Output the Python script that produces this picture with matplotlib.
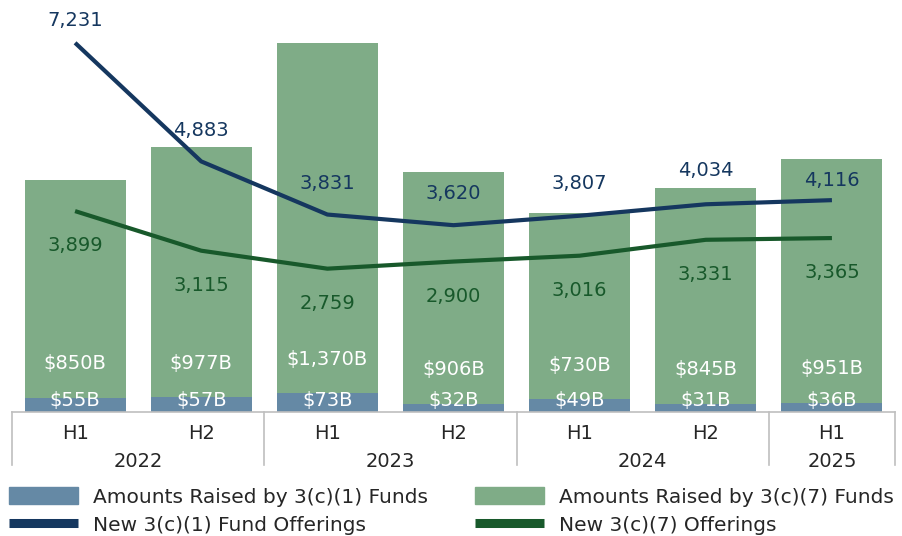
import numpy as np
from matplotlib import pyplot as plt
from matplotlib.patches import Patch
from matplotlib.lines import Line2D

# half-year periods and their years
periods = ['H1', 'H2', 'H1', 'H2', 'H1', 'H2', 'H1']
years = ['2022', '2023', '2024', '2025']
year_spans = [2, 2, 2, 1]

# amounts raised, $B
c1_amount = [55, 57, 73, 32, 49, 31, 36]
c7_amount = [850, 977, 1370, 906, 730, 845, 951]

# number of new offerings
c1_offerings = [7231, 4883, 3831, 3620, 3807, 4034, 4116]
c7_offerings = [3899, 3115, 2759, 2900, 3016, 3331, 3365]

BLUE_BAR = '#6589A5'
GREEN_BAR = '#7FAC87'
NAVY = '#15375F'
DKGREEN = '#18592B'
GRID = '#BFBFBF'
TXT = '#262626'

plt.rcParams['font.family'] = 'DejaVu Sans'

fig = plt.figure(figsize=(9.02, 5.36), dpi=100)
W, H = 902, 536
ax = fig.add_axes([12 / W, (H - 411.7) / H, (895 - 12) / W, 411.7 / H])
ax2 = ax.twinx()

x = np.arange(len(periods))
ax.bar(x, c1_amount, width=0.8, color=BLUE_BAR)
ax.bar(x, c7_amount, width=0.8, bottom=c1_amount, color=GREEN_BAR)
ax.set_xlim(-0.5, len(periods) - 0.5)
ax.set_ylim(0, 1611)

ax2.plot(x, c1_offerings, color=NAVY, lw=3, solid_capstyle='butt')
ax2.plot(x, c7_offerings, color=DKGREEN, lw=3, solid_capstyle='butt')
ax2.set_ylim(-73, 8079)

for a in (ax, ax2):
    for s in ['top', 'left', 'right']:
        a.spines[s].set_visible(False)
    a.set_yticks([])
    a.set_xticks([])
ax.spines['bottom'].set_color(GRID)
ax.spines['bottom'].set_linewidth(1.2)
ax2.spines['bottom'].set_visible(False)

fs = 14
# label nudges (points) for the navy line, ends sit closer like the original
navy_off = [16, 22, 22, 23, 23, 24, 14]
for i in x:
    ax.annotate('${}B'.format(c1_amount[i]), (i, 0), xytext=(0, 8), textcoords='offset points',
                ha='center', va='center', color='white', fontsize=fs)
    ax.annotate('${:,}B'.format(c7_amount[i]), (i, c1_amount[i]), xytext=(0, 24.5),
                textcoords='offset points', ha='center', va='center', color='white', fontsize=fs)
    ax2.annotate('{:,}'.format(c1_offerings[i]), (i, c1_offerings[i]), xytext=(0, navy_off[i]),
                 textcoords='offset points', ha='center', va='center', color=NAVY, fontsize=fs)
    ax2.annotate('{:,}'.format(c7_offerings[i]), (i, c7_offerings[i]), xytext=(0, -25),
                 textcoords='offset points', ha='center', va='center', color=DKGREEN, fontsize=fs)

# category axis: periods, years and separators
tr = ax.get_xaxis_transform()
for i, p in enumerate(periods):
    ax.text(i, -0.054, p, transform=tr, ha='center', va='center', fontsize=fs, color=TXT)
start = 0
edges = [-0.5]
for y, n in zip(years, year_spans):
    ax.text(start + (n - 1) / 2, -0.122, y, transform=tr, ha='center', va='center',
            fontsize=fs, color=TXT)
    start += n
    edges.append(start - 0.5)
for e in edges:
    ax.add_line(Line2D([e, e], [0, -0.13], transform=tr, color=GRID, lw=1.2, clip_on=False))

# legend, two columns placed separately
lfs = 14.5
common = dict(loc='center left', frameon=False, fontsize=lfs, handlelength=3.45,
              handleheight=0.9, handletextpad=0.7, labelspacing=0.42, borderpad=0,
              borderaxespad=0, labelcolor=TXT)
fig.legend([Patch(color=BLUE_BAR), Line2D([], [], color=NAVY, lw=6.5, solid_capstyle='butt')],
           ['Amounts Raised by 3(c)(1) Funds', 'New 3(c)(1) Fund Offerings'],
           bbox_to_anchor=(9 / W, 1 - 511 / H), **common)
fig.legend([Patch(color=GREEN_BAR), Line2D([], [], color=DKGREEN, lw=6.5, solid_capstyle='butt')],
           ['Amounts Raised by 3(c)(7) Funds', 'New 3(c)(7) Offerings'],
           bbox_to_anchor=(475 / W, 1 - 511 / H), **common)

fig.savefig('out.png', dpi=100)
